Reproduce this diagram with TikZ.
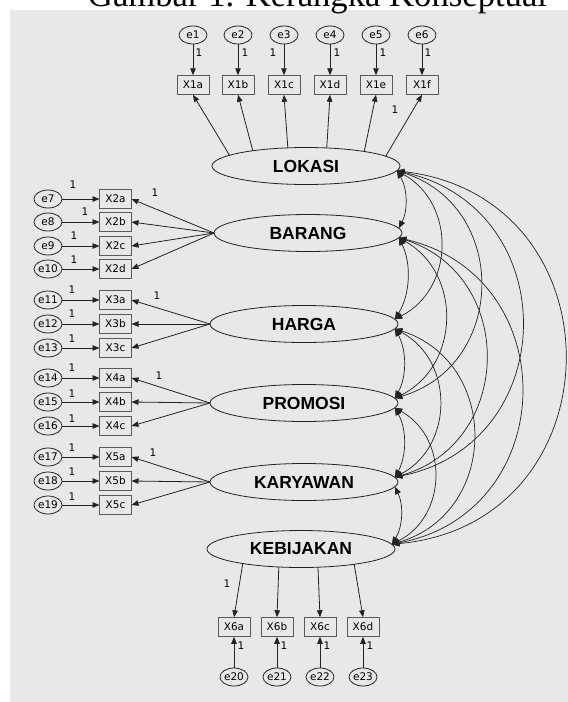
\documentclass[tikz,border=0pt]{standalone}
\usepackage{fontspec}
\usepackage{graphicx}
\setmainfont{Liberation Serif}
\newfontfamily\smallf{DejaVu Sans}
\newfontfamily\latf{Liberation Sans}
\usetikzlibrary{arrows.meta,shapes.geometric}
\definecolor{bg}{RGB}{232,232,232}
\definecolor{ln}{RGB}{35,35,35}
\definecolor{bx}{RGB}{90,90,90}
\begin{document}
\begin{tikzpicture}[x=1pt,y=-1pt,
  every node/.style={inner sep=0pt, outer sep=0pt},
  obs/.style={draw=bx, line width=1pt, fill=bg, minimum width=32pt, minimum height=19.5pt, font=\smallf\fontsize{10.5}{10.5}\selectfont},
  err/.style={ellipse, draw=ln, line width=0.8pt, fill=bg, minimum width=28pt, minimum height=18pt, font=\smallf\fontsize{10.5}{10.5}\selectfont},
  lat/.style={ellipse, draw=ln, line width=0.8pt, fill=bg, minimum width=188pt, minimum height=37pt, font=\latf\bfseries\fontsize{17.5}{17.5}\selectfont},
  lbl/.style={font=\smallf\fontsize{10.5}{10.5}\selectfont},
  arr/.style={draw=ln, line width=0.8pt, -{Triangle[length=7pt,width=5.5pt]}},
  cov/.style={draw=ln, line width=0.7pt, {Triangle[length=7.5pt,width=6pt]}-{Triangle[length=7.5pt,width=6pt]}},
]
\useasboundingbox (0,0) rectangle (568,702);
\clip (0,0) rectangle (568,702);
\fill[bg] (10,10) rectangle (568,702);
\node[anchor=base west] (title) at (88,6) {\resizebox{459pt}{!}{Gambar 1. Kerangka Konseptual}};

% latent variables
\node[lat] (lok) at (306,166) {LOKASI};
\node[lat] (bar) at (308,233) {BARANG};
\node[lat] (har) at (304,324) {HARGA};
\node[lat] (pro) at (304,403) {PROMOSI};
\node[lat] (kar) at (304,482) {KARYAWAN};
\node[lat] (keb) at (301,549) {KEBIJAKAN};

% adjacent
\draw[cov] (lok.-3) to[bend left=29, looseness=0.91] (bar.3);
\draw[cov] (bar.-3) to[bend left=29, looseness=0.91] (har.3);
\draw[cov] (har.-3) to[bend left=29, looseness=0.91] (pro.3);
\draw[cov] (pro.-3) to[bend left=29, looseness=0.91] (kar.3);
\draw[cov] (kar.-3) to[bend left=29, looseness=0.91] (keb.3);
% distance 2
\draw[cov] (lok.-3) to[bend left=62, looseness=1.16] (har.3);
\draw[cov] (bar.-3) to[bend left=62, looseness=1.16] (pro.3);
\draw[cov] (har.-3) to[bend left=62, looseness=1.16] (kar.3);
\draw[cov] (pro.-3) to[bend left=62, looseness=1.16] (keb.3);
% distance 3
\draw[cov] (lok.-3) to[bend left=73, looseness=1.32] (pro.3);
\draw[cov] (bar.-3) to[bend left=73, looseness=1.32] (kar.3);
\draw[cov] (har.-3) to[bend left=73, looseness=1.32] (keb.3);
% distance 4
\draw[cov] (lok.-3) to[bend left=78, looseness=1.43] (kar.3);
\draw[cov] (bar.-3) to[bend left=78, looseness=1.43] (keb.3);
% distance 5
\draw[cov] (lok.-3) to[bend left=84, looseness=1.56] (keb.3);

% top indicators
\foreach \i/\x/\n/\a in {1/193/X1a/172.8, 2/238/X1b/164.9, 3/284/X1c/135.8, 4/330/X1d/41.3, 5/376/X1e/14.1, 6/422/X1f/7.7}{
  \node[err] (e\i) at (\x,35) {e\i};
  \node[obs] (\n) at (\x,85) {\n};
  \draw[arr] (e\i) -- (\n);
  \draw[arr] (lok.\a) -- (\n.south);
}
\node[lbl] (t1) at (199,53) {1};
\node[lbl] (t2) at (245,53) {1};
\node[lbl] (t3) at (273,53) {1};
\node[lbl] (t4) at (337,53) {1};
\node[lbl] (t5) at (383,53) {1};
\node[lbl] (t6) at (428,53) {1};
\node[lbl] (t7) at (395,110) {1};

% left indicators
\foreach \i/\y/\n/\lx/\ly/\src in {7/199/X2a/73/185/bar, 8/222/X2b/85/212/bar, 9/246/X2c/74/236/bar, 10/269/X2d/74/260/bar,
  11/300/X3a/72/290/har, 12/324/X3b/72/314/har, 13/348/X3c/72/339/har,
  14/378/X4a/72/368/pro, 15/402/X4b/72/394/pro, 16/426/X4c/72/419/pro,
  17/457/X5a/72/448/kar, 18/481/X5b/72/472/kar, 19/505/X5c/72/497/kar}{
  \node[err] (e\i) at (48,\y) {e\i};
  \node[obs] (\n) at (115.5,\y) {\n};
  \draw[arr] (e\i) -- (\n);
  \draw[arr] (\src.west) -- (\n.east);
  \node[lbl] (l\i) at (\lx,\ly) {1};
}
\node[lbl] (m2) at (155,193) {1};
\node[lbl] (m3) at (157,296) {1};
\node[lbl] (m4) at (159,376) {1};
\node[lbl] (m5) at (153,453) {1};

% bottom indicators
\foreach \i/\x/\n/\a in {20/234/X6a/194.2, 21/277/X6b/219.3, 22/320/X6c/313, 23/363/X6d/344.3}{
  \node[err] (e\i) at (\x,677) {e\i};
  \node[obs] (\n) at (\x,627) {\n};
  \draw[arr] (e\i) -- (\n);
  \draw[arr] (keb.\a) -- (\n.north);
  \node[lbl] (b\i) at (\x+7,646) {1};
}
\node[lbl] (m6) at (227,584) {1};
\end{tikzpicture}
\end{document}
